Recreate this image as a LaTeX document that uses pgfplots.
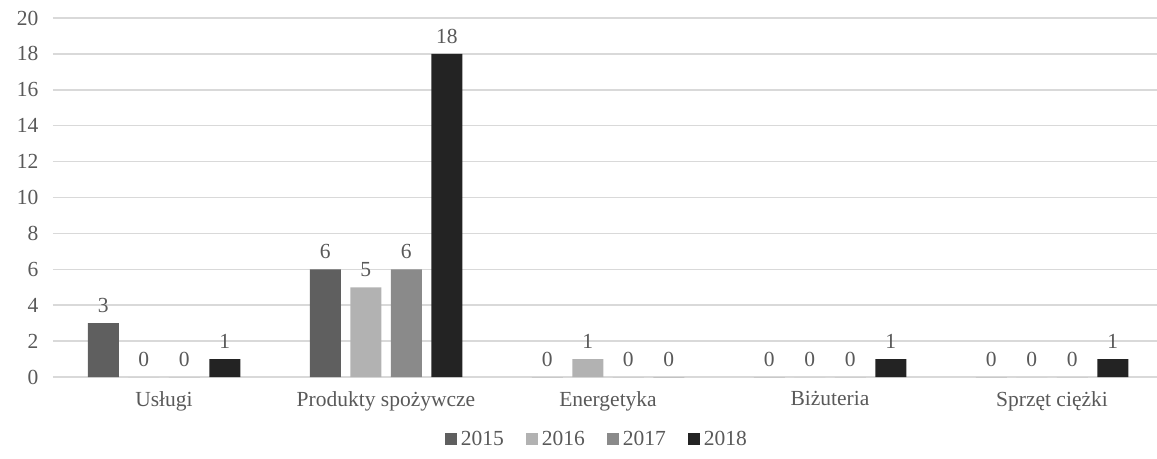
\documentclass[border=0pt]{standalone}
\usepackage{fontspec}
\setmainfont{Liberation Serif}
\usepackage{pgfplots}
\pgfplotsset{compat=1.18}
\definecolor{cA}{HTML}{5F5F5F}
\definecolor{cB}{HTML}{B2B2B2}
\definecolor{cC}{HTML}{8A8A8A}
\definecolor{cD}{HTML}{232323}
\definecolor{txt}{HTML}{595959}
\definecolor{grd}{HTML}{D9D9D9}
\begin{document}
\begin{tikzpicture}
\path[use as bounding box] (-53pt,-81pt) rectangle (1104pt,377pt);
\begin{axis}[
  at={(0pt,0pt)}, anchor=south west,
  scale only axis, width=1110pt, height=359pt,
  ybar=9.5pt, bar width=31pt,
  xmin=-0.5, xmax=4.5, ymin=0, ymax=20,
  xtick=data,
  xticklabels={Usługi,Produkty spożywcze,Energetyka,Biżuteria,Sprzęt ciężki},
  ytick={0,2,...,20},
  ymajorgrids, grid style={grd, line width=1.5pt},
  axis x line*=bottom, axis y line*=left,
  x axis line style={grd, line width=1.5pt, -},
  y axis line style={draw=none},
  major tick length=0pt,
  tick label style={font=\fontsize{21.5}{25}\selectfont, text=txt},
  /pgf/number format/assume math mode=true,
  yticklabel style={xshift=-11pt},
  xticklabel style={yshift=-11pt},
  nodes near coords,
  every node near coord/.append style={font=\fontsize{21.5}{25}\selectfont, text=txt, /pgf/number format/assume math mode=true, yshift=7pt},
  legend columns=4,
  legend style={at={(0.49,-0.14)}, anchor=north, draw=none, fill=none,
    font=\fontsize{21.5}{25}\selectfont, text=txt,
    /tikz/every odd column/.append style={column sep=2pt},
    /tikz/every even column/.append style={column sep=20pt}},
  legend image code/.code={\fill[#1] (0pt,-6pt) rectangle (12pt,6pt);},
]
\addplot[fill=cA, draw=none] coordinates {(0,3) (1,6) (2,0) (3,0) (4,0)};
\addplot[fill=cB, draw=none] coordinates {(0,0) (1,5) (2,1) (3,0) (4,0)};
\addplot[fill=cC, draw=none] coordinates {(0,0) (1,6) (2,0) (3,0) (4,0)};
\addplot[fill=cD, draw=none] coordinates {(0,1) (1,18) (2,0) (3,1) (4,1)};
\legend{2015,2016,2017,2018}
\end{axis}
\end{tikzpicture}
\end{document}
